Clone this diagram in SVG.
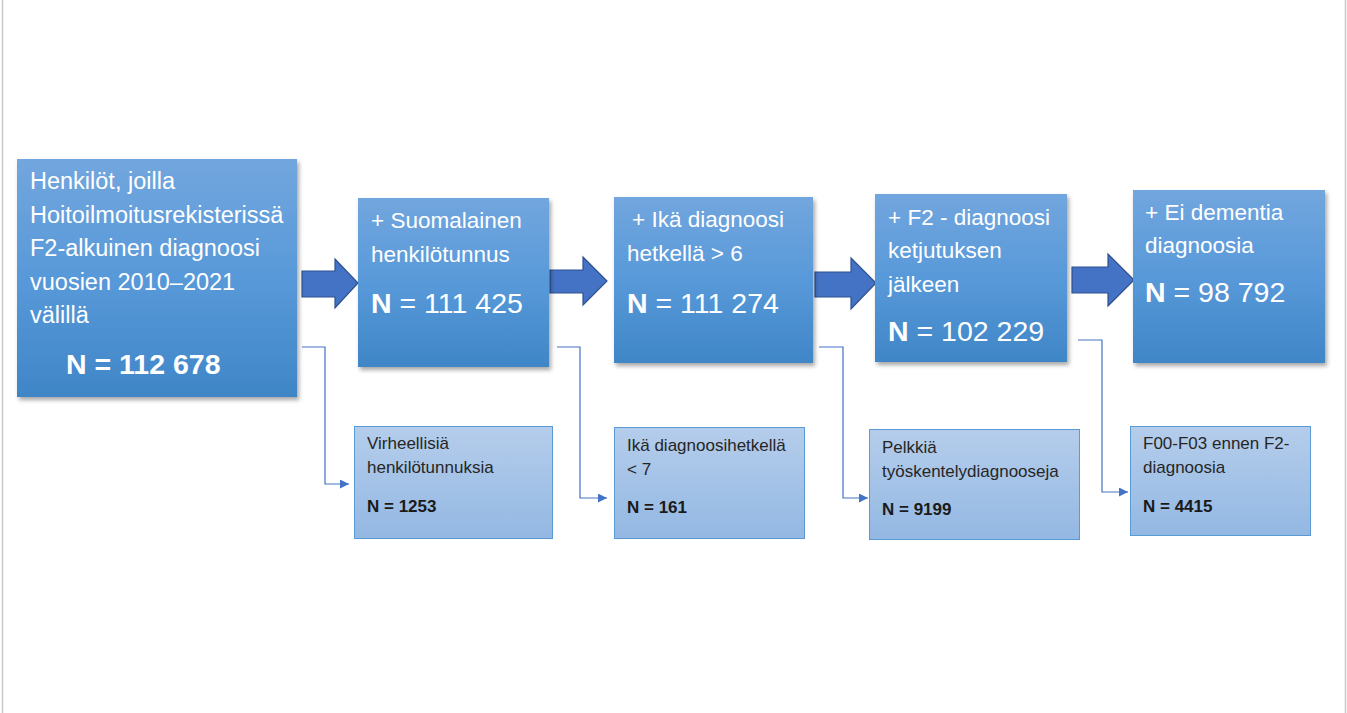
<svg xmlns="http://www.w3.org/2000/svg" width="1347" height="713" viewBox="0 0 1347 713">
<defs>
<linearGradient id="gBig" x1="0" y1="0" x2="0" y2="1">
<stop offset="0" stop-color="#72a6de"/>
<stop offset="0.5" stop-color="#5899d9"/>
<stop offset="1" stop-color="#3f86c7"/>
</linearGradient>
<linearGradient id="gSmall" x1="0" y1="0" x2="0" y2="1">
<stop offset="0" stop-color="#b5cdeb"/>
<stop offset="1" stop-color="#93b8e3"/>
</linearGradient>
<filter id="sh" x="-10%" y="-10%" width="125%" height="125%">
<feDropShadow dx="2" dy="3" stdDeviation="2" flood-color="#000" flood-opacity="0.35"/>
</filter>
<marker id="ah" markerWidth="10" markerHeight="9" refX="9" refY="4.5" orient="auto" markerUnits="userSpaceOnUse">
<path d="M0,0 L9,4.5 L0,9 Z" fill="#4472c4"/>
</marker>
</defs>
<style>
.big{fill:url(#gBig);filter:url(#sh);}
.small{fill:url(#gSmall);stroke:#5b9bd5;stroke-width:1;}
.bt{font-family:"Liberation Sans",Arial,sans-serif;font-size:22.5px;fill:#ffffff;}
.bt1{font-family:"Liberation Sans",Arial,sans-serif;font-size:23.5px;fill:#ffffff;}
.bn{font-family:"Liberation Sans",Arial,sans-serif;font-size:28.5px;fill:#ffffff;}
.st{font-family:"Liberation Sans",Arial,sans-serif;font-size:17px;fill:#262626;}
.sn{font-family:"Liberation Sans",Arial,sans-serif;font-size:17px;font-weight:bold;fill:#1a1a1a;}
.blk{fill:#4472c4;stroke:#2f528f;stroke-width:1.2;}
.con{fill:none;stroke:#4472c4;stroke-width:1.2;}
</style>
<rect x="0" y="0" width="1347" height="713" fill="#ffffff"/>
<line x1="2.5" y1="0" x2="2.5" y2="713" stroke="#c8c8c8" stroke-width="1.5"/>
<line x1="1345.5" y1="0" x2="1345.5" y2="713" stroke="#c8c8c8" stroke-width="1.5"/>

<g id="connectors">
<path class="blk" d="M302,271 H335 V259 L358,283 L335,308 V297 H302 Z"/>
<path class="blk" d="M550,270 H583 V257 L607,281 L583,305 V293 H550 Z"/>
<path class="blk" d="M815,272 H851 V258 L876,283 L851,309 V297 H815 Z"/>
<path class="blk" d="M1072,267 H1108 V254 L1134,280 L1108,306 V293 H1072 Z"/>
<path class="con" marker-end="url(#ah)" d="M302,347 H325 V484 H349"/>
<path class="con" marker-end="url(#ah)" d="M557,347 H580 V498 H607"/>
<path class="con" marker-end="url(#ah)" d="M819,347 H843 V498 H868"/>
<path class="con" marker-end="url(#ah)" d="M1078,340 H1102 V492 H1128"/>
</g>

<g id="node1">
<rect class="big" x="17" y="159" width="280" height="238"/>
<text class="bt1" x="30" y="189">Henkilöt, joilla</text>
<text class="bt1" x="30" y="222.5">Hoitoilmoitusrekisterissä</text>
<text class="bt1" x="30" y="256">F2-alkuinen diagnoosi</text>
<text class="bt1" x="30" y="289.5">vuosien 2010–2021</text>
<text class="bt1" x="30" y="323">välillä</text>
<text class="bn" x="66" y="374" font-weight="bold">N = 112 678</text>
</g>

<g id="node2">
<rect class="big" x="358" y="198" width="191" height="169"/>
<text class="bt" x="371" y="228">+ Suomalainen</text>
<text class="bt" x="371" y="262">henkilötunnus</text>
<text class="bn" x="371" y="313"><tspan font-weight="bold">N</tspan> = 111 425</text>
</g>

<g id="node3">
<rect class="big" x="614" y="197" width="199" height="166"/>
<text class="bt" x="632" y="227">+ Ikä diagnoosi</text>
<text class="bt" x="627" y="261">hetkellä &gt; 6</text>
<text class="bn" x="627" y="313"><tspan font-weight="bold">N</tspan> = 111 274</text>
</g>

<g id="node4">
<rect class="big" x="875" y="194" width="192" height="168"/>
<text class="bt" x="888" y="225">+ F2 - diagnoosi</text>
<text class="bt" x="888" y="258">ketjutuksen</text>
<text class="bt" x="888" y="292">jälkeen</text>
<text class="bn" x="888" y="341"><tspan font-weight="bold">N</tspan> = 102 229</text>
</g>

<g id="node5">
<rect class="big" x="1133" y="190" width="192" height="173"/>
<text class="bt" x="1145" y="220">+ Ei dementia</text>
<text class="bt" x="1145" y="253">diagnoosia</text>
<text class="bn" x="1145" y="302"><tspan font-weight="bold">N</tspan> = 98 792</text>
</g>

<g id="excl1">
<rect class="small" x="354.5" y="426.5" width="198" height="112"/>
<text class="st" x="367" y="449">Virheellisiä</text>
<text class="st" x="367" y="473">henkilötunnuksia</text>
<text class="sn" x="367" y="512">N = 1253</text>
</g>

<g id="excl2">
<rect class="small" x="614.5" y="427.5" width="190" height="111"/>
<text class="st" x="627" y="451">Ikä diagnoosihetkellä</text>
<text class="st" x="627" y="475">&lt; 7</text>
<text class="sn" x="627" y="513">N = 161</text>
</g>

<g id="excl3">
<rect class="small" x="869.5" y="429.5" width="210" height="110"/>
<text class="st" x="882" y="453">Pelkkiä</text>
<text class="st" x="882" y="477">työskentelydiagnooseja</text>
<text class="sn" x="882" y="515">N = 9199</text>
</g>

<g id="excl4">
<rect class="small" x="1130.5" y="426.5" width="180" height="109"/>
<text class="st" x="1143" y="449">F00-F03 ennen F2-</text>
<text class="st" x="1143" y="473">diagnoosia</text>
<text class="sn" x="1143" y="512">N = 4415</text>
</g>
</svg>
